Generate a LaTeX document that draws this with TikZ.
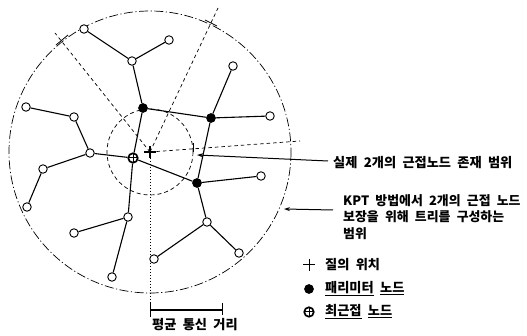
\documentclass[tikz,border=0pt]{standalone}
\usepackage{fontspec}
\newfontfamily\kr[WordSpace=2.9]{Noto Sans CJK KR}
\newfontfamily\krn[WordSpace=2.1]{Noto Sans CJK KR}
\usetikzlibrary{arrows.meta}
\begin{document}
\begin{tikzpicture}[x=1pt,y=-1pt,
  open/.style={circle,draw,line width=0.9pt,fill=white,minimum size=8.5pt,inner sep=0pt},
  peri/.style={circle,fill=black,draw=black,line width=0.6pt,minimum size=9pt,inner sep=0pt},
  near/.style={circle,draw,line width=1.7pt,fill=white,minimum size=9.5pt,inner sep=0pt,
    path picture={\draw[line width=1pt] (path picture bounding box.north) -- (path picture bounding box.south)
      (path picture bounding box.west) -- (path picture bounding box.east);}},
  link/.style={line width=1.1pt},
  bigc/.style={line width=0.7pt,dash pattern=on 9pt off 2.5pt on 1.2pt off 2.5pt},
  smallc/.style={line width=0.7pt,dash pattern=on 4pt off 3pt},
  radial/.style={line width=0.7pt,dash pattern=on 3.5pt off 3pt},
  lbl/.style={font=\kr\bfseries\fontsize{13.2}{16.5}\selectfont,inner sep=0pt,anchor=west},
  lbln/.style={font=\krn\bfseries\fontsize{12.9}{16.5}\selectfont,inner sep=0pt,anchor=west},
  pointer/.style={line width=1pt,-{Stealth[length=6pt,width=4pt]}}
]
\useasboundingbox (0,0) rectangle (527,336);
% query point
\coordinate (Q) at (150,152);
% circles
\draw[bigc] (Q) circle[radius=141];
\draw[smallc] (Q) circle[radius=43];
% radial lines
\coordinate (ul) at (55,33);
\coordinate (ur) at (218,8);
\coordinate (rr) at (300,141);
\coordinate (dd) at (150,303);
\draw[radial] (Q) -- (ul);
\draw[radial] (Q) -- (ur);
\draw[radial] (Q) -- (rr);
\draw[line width=0.7pt,dash pattern=on 1.5pt off 1.5pt] (Q) -- (dd);
% ticks where radii meet the circles
\draw[line width=0.8pt] (56,45) -- (68,35);
\draw[line width=0.8pt] (205,20) -- (217,26);
\draw[line width=0.8pt] (193,143) -- (193,152);
% query cross
\draw[line width=1.1pt] (Q) ++(-6,0) -- ++(12,0) (Q) ++(0,-6) -- ++(0,12);
% nodes
\node[open] (a) at (84,29) {};
\node[open] (b) at (169,40) {};
\node[open] (c) at (132,61) {};
\node[open] (d) at (233,66) {};
\node[peri] (P1) at (143,108) {};
\node[peri] (P2) at (211,118) {};
\node[open] (e) at (270,116) {};
\node[open] (f) at (26,107) {};
\node[open] (g) at (74,117) {};
\node[open] (h) at (90,153) {};
\node[near] (N) at (133,158) {};
\node[open] (i) at (43,169) {};
\node[open] (j) at (27,207) {};
\node[peri] (P3) at (197,183) {};
\node[open] (k) at (261,176) {};
\node[open] (l) at (128,217) {};
\node[open] (m) at (74,233) {};
\node[open] (o) at (207,222) {};
\node[open] (p) at (239,253) {};
\node[open] (q) at (154,259) {};
\node[open] (r) at (112,277) {};
% links
\draw[link] (a) -- (c);
\draw[link] (b) -- (c);
\draw[link] (c) -- (P1);
\draw[link] (P1) -- (P2);
\draw[link] (d) -- (P2);
\draw[link] (P2) -- (e);
\draw[link] (P2) -- (P3);
\draw[link] (P1) -- (N);
\draw[link] (f) -- (g);
\draw[link] (g) -- (h);
\draw[link] (h) -- (N);
\draw[link] (h) -- (i);
\draw[link] (i) -- (j);
\draw[link] (N) -- (P3);
\draw[link] (P3) -- (k);
\draw[link] (N) -- (l);
\draw[link] (l) -- (m);
\draw[link] (l) -- (r);
\draw[link] (P3) -- (o);
\draw[link] (o) -- (q);
\draw[link] (o) -- (p);
% labels with pointers
\coordinate (s1) at (328,161);
\coordinate (t1) at (197,155);
\draw[pointer] (s1) -- (t1);
\node[lbl] (L1) at (333,163) {실제 2개의 근접노드 존재 범위};
\coordinate (s2) at (333,210);
\coordinate (t2) at (284,209);
\draw[pointer] (s2) -- (t2);
\node[lbln,align=left] (L2) at (343,217) {KPT 방법에서 2개의 근접 노드\\보장을 위해 트리를 구성하는\\범위};
% distance bar
\coordinate (b1) at (150,310);
\coordinate (b2) at (222,310);
\draw[line width=1.6pt] (b1) -- (b2);
\draw[line width=1pt] (150,303) -- (150,317);
\draw[line width=1pt] (222,303) -- (222,315);
\node[lbl] (L3) at (152,325) {평균 통신 거리};
% legend
\draw[line width=1pt] (303,265) -- (315,265) (309,259) -- (309,271);
\node[lbl] (G1) at (325,265) {질의 위치};
\node[peri] (G2s) at (309,289) {};
\node[lbl] (G2) at (325,289) {\underline{패리미터} \underline{노드}};
\node[near] (G3s) at (309,312) {};
\node[lbl] (G3) at (325,312) {\underline{최근접} \underline{노드}};
\end{tikzpicture}
\end{document}
